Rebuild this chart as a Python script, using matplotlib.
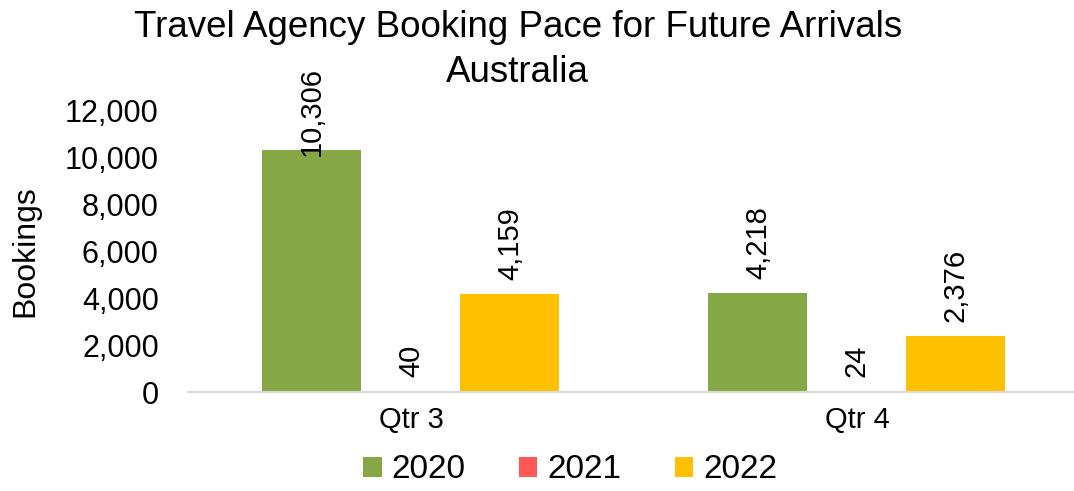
import matplotlib.pyplot as plt
import numpy as np

plt.rcParams['font.family'] = ['Liberation Sans', 'DejaVu Sans']

quarters = ["Qtr 3", "Qtr 4"]
years = ["2020", "2021", "2022"]
bookings = {
    "2020": [10306, 4218],
    "2021": [40, 24],
    "2022": [4159, 2376],
}
colors = {"2020": "#85A745", "2021": "#FF5757", "2022": "#FFC000"}

fig = plt.figure(figsize=(10.74, 4.91), dpi=100)
ax = fig.add_axes([0.175, 0.2016, 0.8305, 0.5743])

x = np.arange(len(quarters)) + 0.5
w = 0.222
for i, yr in enumerate(years):
    xs = x + (i - 1) * w
    bars = ax.bar(xs, bookings[yr], width=w, color=colors[yr], label=yr)
    for xi, v in zip(xs, bookings[yr]):
        # Excel pulls the label down when it would leave the plot area
        off = -6 if v > 10000 else 14
        ax.annotate(f"{v:,}", (xi, v), xytext=(0, off), textcoords="offset pixels",
                    rotation=90, ha="center", va="bottom", fontsize=21)

ax.set_xlim(0, 2)
ax.set_ylim(0, 12000)
ax.set_yticks(range(0, 12001, 2000))
ax.set_yticklabels([f"{t:,}" for t in range(0, 12001, 2000)], fontsize=22)
ax.set_xticks(x)
ax.set_xticklabels(quarters, fontsize=21)
ax.tick_params(axis="both", length=0)
ax.tick_params(axis="y", pad=21)
ax.tick_params(axis="x", pad=10)
for s in ["top", "right", "left"]:
    ax.spines[s].set_visible(False)
ax.spines["bottom"].set_color("#D9D9D9")
ax.spines["bottom"].set_linewidth(1.5)

ax.set_ylabel("Bookings", fontsize=23)
ax.yaxis.set_label_coords(-0.165, 0.5)

fig.text(0.482, 0.925, "Travel Agency Booking Pace for Future Arrivals",
         ha="center", va="baseline", fontsize=26.5)
fig.text(0.482, 0.834, "Australia", ha="center", va="baseline", fontsize=26.5)

fig.legend(loc="center", bbox_to_anchor=(0.531, 0.043), ncol=3, frameon=False,
           fontsize=24, handlelength=0.55, handleheight=0.55, handletextpad=0.3,
           columnspacing=1.6, borderaxespad=0)

fig.savefig("out.png", dpi=100)
